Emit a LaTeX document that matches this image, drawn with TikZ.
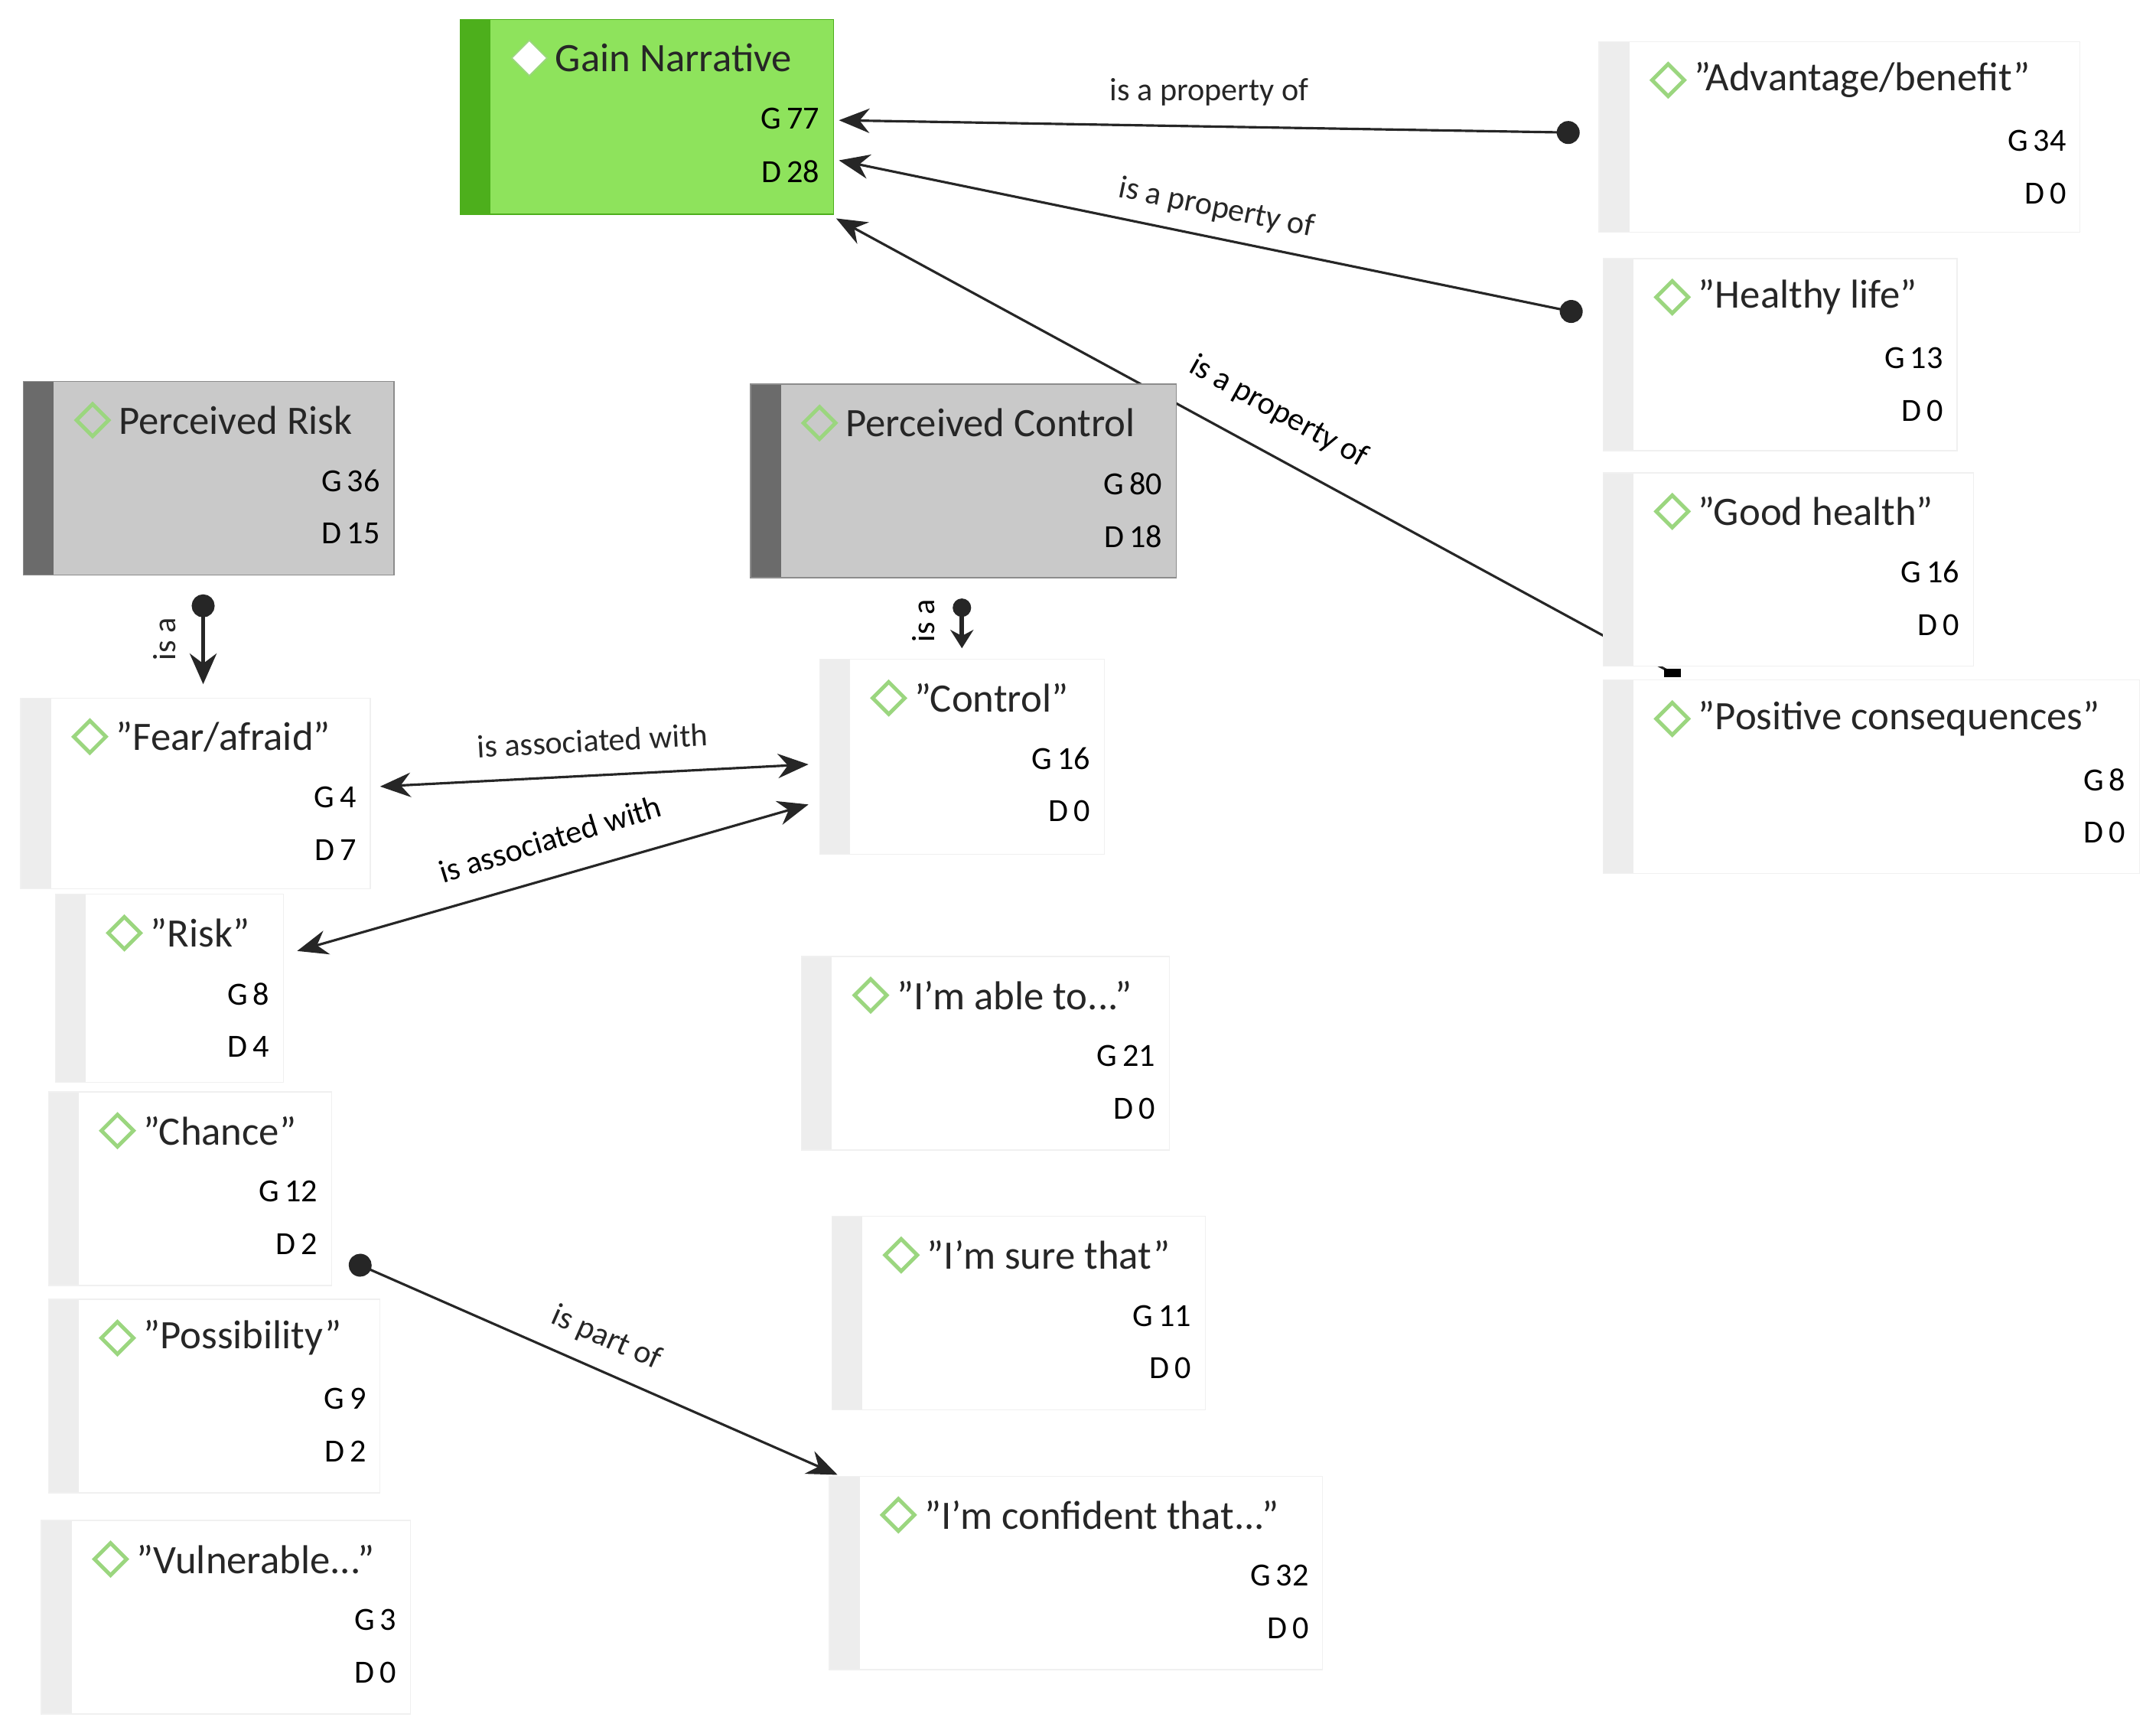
\documentclass[tikz,border=0pt]{standalone}
\usepackage{fontspec}
\setmainfont{Carlito}
\usetikzlibrary{shapes.geometric,arrows.meta,backgrounds}
\definecolor{gainfill}{HTML}{8EE35C}
\definecolor{gainstrip}{HTML}{4DAF1C}
\definecolor{catfill}{HTML}{C9C9C9}
\definecolor{catstrip}{HTML}{6B6B6B}
\definecolor{codestrip}{HTML}{EDEDED}
\definecolor{mark}{HTML}{9BD67F}
\tikzset{
  title/.style={anchor=west, font=\fontsize{15}{17}\selectfont, text=black!85},
  count/.style={anchor=east, font=\fontsize{12}{14}\selectfont},
  rel/.style={font=\fontsize{12}{14}\selectfont},
  link/.style={line width=0.9pt, black!85},
}
% box: name, x, y, width, height, fill, strip, border, title
\newcommand{\cbox}[9]{%
  \fill[#6] (#2,#3) rectangle ++(#4,#5);
  \fill[#7] (#2,#3) rectangle ++(22,#5);
  \draw[#8] (#2,#3) rectangle ++(#4,#5);
  \node[minimum width=#4*0.1806mm, minimum height=#5*0.1806mm, anchor=north west] (#1) at (#2,#3) {};
  \node[diamond, draw=mark, line width=1.4pt, minimum size=4.4mm, inner sep=0pt] (#1-d) at ([shift={(50,28)}]#1.north west) {};
  \node[title] at ([shift={(62,28)}]#1.north west) {#9};
}
\newcommand{\cnum}[3]{%
  \node[count] at ([shift={(-4,72)}]#1.north east) {G\,#2};
  \node[count] at ([shift={(-4,110)}]#1.north east) {D\,#3};
}
\begin{document}
\begin{tikzpicture}[x=0.1806mm, y=-0.1806mm]
\useasboundingbox (0,0) rectangle (1560,1249);

% core categories
\cbox{gain}{333}{14}{270}{141}{gainfill}{gainstrip}{gainstrip}{Gain Narrative}
\node[diamond, fill=white, minimum size=4.4mm, inner sep=0pt] at (gain-d) {};
\cnum{gain}{77}{28}
\cbox{prisk}{17}{276}{268}{140}{catfill}{catstrip}{black!45}{Perceived Risk}
\cnum{prisk}{36}{15}
\cbox{pctrl}{543}{278}{308}{140}{catfill}{catstrip}{black!45}{Perceived Control}
\cnum{pctrl}{80}{18}

% codes
\cbox{adv}{1157}{30}{348}{138}{white}{codestrip}{black!6}{"Advantage/benefit"}
\cnum{adv}{34}{0}
\cbox{life}{1160}{187}{256}{139}{white}{codestrip}{black!6}{"Healthy life"}
\cnum{life}{13}{0}
\cbox{health}{1160}{342}{268}{140}{white}{codestrip}{black!6}{"Good health"}
\cnum{health}{16}{0}
\cbox{posc}{1160}{492}{388}{140}{white}{codestrip}{black!6}{"Positive consequences"}
\cnum{posc}{8}{0}
\cbox{ctrl}{593}{477}{206}{141}{white}{codestrip}{black!6}{"Control"}
\cnum{ctrl}{16}{0}
\cbox{fear}{15}{505}{253}{138}{white}{codestrip}{black!6}{"Fear/afraid"}
\cnum{fear}{4}{7}
\cbox{risk}{40}{647}{165}{136}{white}{codestrip}{black!6}{"Risk"}
\cnum{risk}{8}{4}
\cbox{chance}{35}{790}{205}{140}{white}{codestrip}{black!6}{"Chance"}
\cnum{chance}{12}{2}
\cbox{poss}{35}{940}{240}{140}{white}{codestrip}{black!6}{"Possibility"}
\cnum{poss}{9}{2}
\cbox{vuln}{30}{1100}{267}{140}{white}{codestrip}{black!6}{"Vulnerable..."}
\cnum{vuln}{3}{0}
\cbox{able}{580}{692}{266}{140}{white}{codestrip}{black!6}{"I'm able to..."}
\cnum{able}{21}{0}
\cbox{sure}{602}{880}{270}{140}{white}{codestrip}{black!6}{"I'm sure that"}
\cnum{sure}{11}{0}
\cbox{conf}{600}{1068}{357}{140}{white}{codestrip}{black!6}{"I'm confident that..."}
\cnum{conf}{32}{0}

% connector ends
\coordinate (advL) at (1143,96);
\coordinate (lifeL) at (1145,227);
\coordinate (posT) at (1210,487);
\coordinate (gainA) at (607,87);
\coordinate (gainB) at (607,116);
\coordinate (gainC) at (605,158);
\coordinate (priskB) at (147,430);
\coordinate (fearT) at (147,495);
\coordinate (pctrlB) at (696,433);
\coordinate (ctrlT) at (696,469);
\coordinate (fearR) at (275,569);
\coordinate (ctrlA) at (585,553);
\coordinate (riskR) at (215,688);
\coordinate (ctrlB) at (585,582);
\coordinate (chanceR) at (253,912);
\coordinate (confL) at (606,1067);

\draw[link, {Circle[length=3mm]}-{Stealth[length=4mm,width=3.2mm]}] (advL) -- (gainA)
  node[rel, midway, above=4pt] {is a property of};
\draw[link, {Circle[length=3mm]}-{Stealth[length=4mm,width=3.2mm]}] (lifeL) -- (gainB)
  node[rel, midway, above=2pt, sloped] {is a property of};
\begin{scope}[on background layer]
\draw[link, -{Stealth[length=4mm,width=3.2mm]}] (posT) -- (gainC);
\end{scope}
\fill (posT) +(-6,-3) rectangle +(6,3);
\node[rel, rotate=-29] at (925,298) {is a property of};
\draw[link, line width=1.6pt, {Circle[length=3mm]}-{Stealth[length=4mm,width=3.5mm]}] (priskB) -- (fearT)
  node[rel, midway, left=6pt, rotate=90, anchor=south] {is a};
\draw[link, line width=1.6pt, {Circle[length=2.4mm]}-{Stealth[length=2.4mm,width=3mm]}] (pctrlB) -- (ctrlT);
\node[rel, rotate=90] at (668,449) {is a};
\draw[link, {Stealth[length=4mm,width=3.2mm]}-{Stealth[length=4mm,width=3.2mm]}] (fearR) -- (ctrlA)
  node[rel, midway, above=5pt, sloped] {is associated with};
\draw[link, {Stealth[length=4mm,width=3.2mm]}-{Stealth[length=4mm,width=3.2mm]}] (riskR) -- (ctrlB);
\node[rel, rotate=17] at (398,607) {is associated with};
\draw[link, {Circle[length=3mm]}-{Stealth[length=4mm,width=3.2mm]}] (chanceR) -- (confL)
  node[rel, midway, above=3pt, sloped] {is part of};
\end{tikzpicture}
\end{document}
